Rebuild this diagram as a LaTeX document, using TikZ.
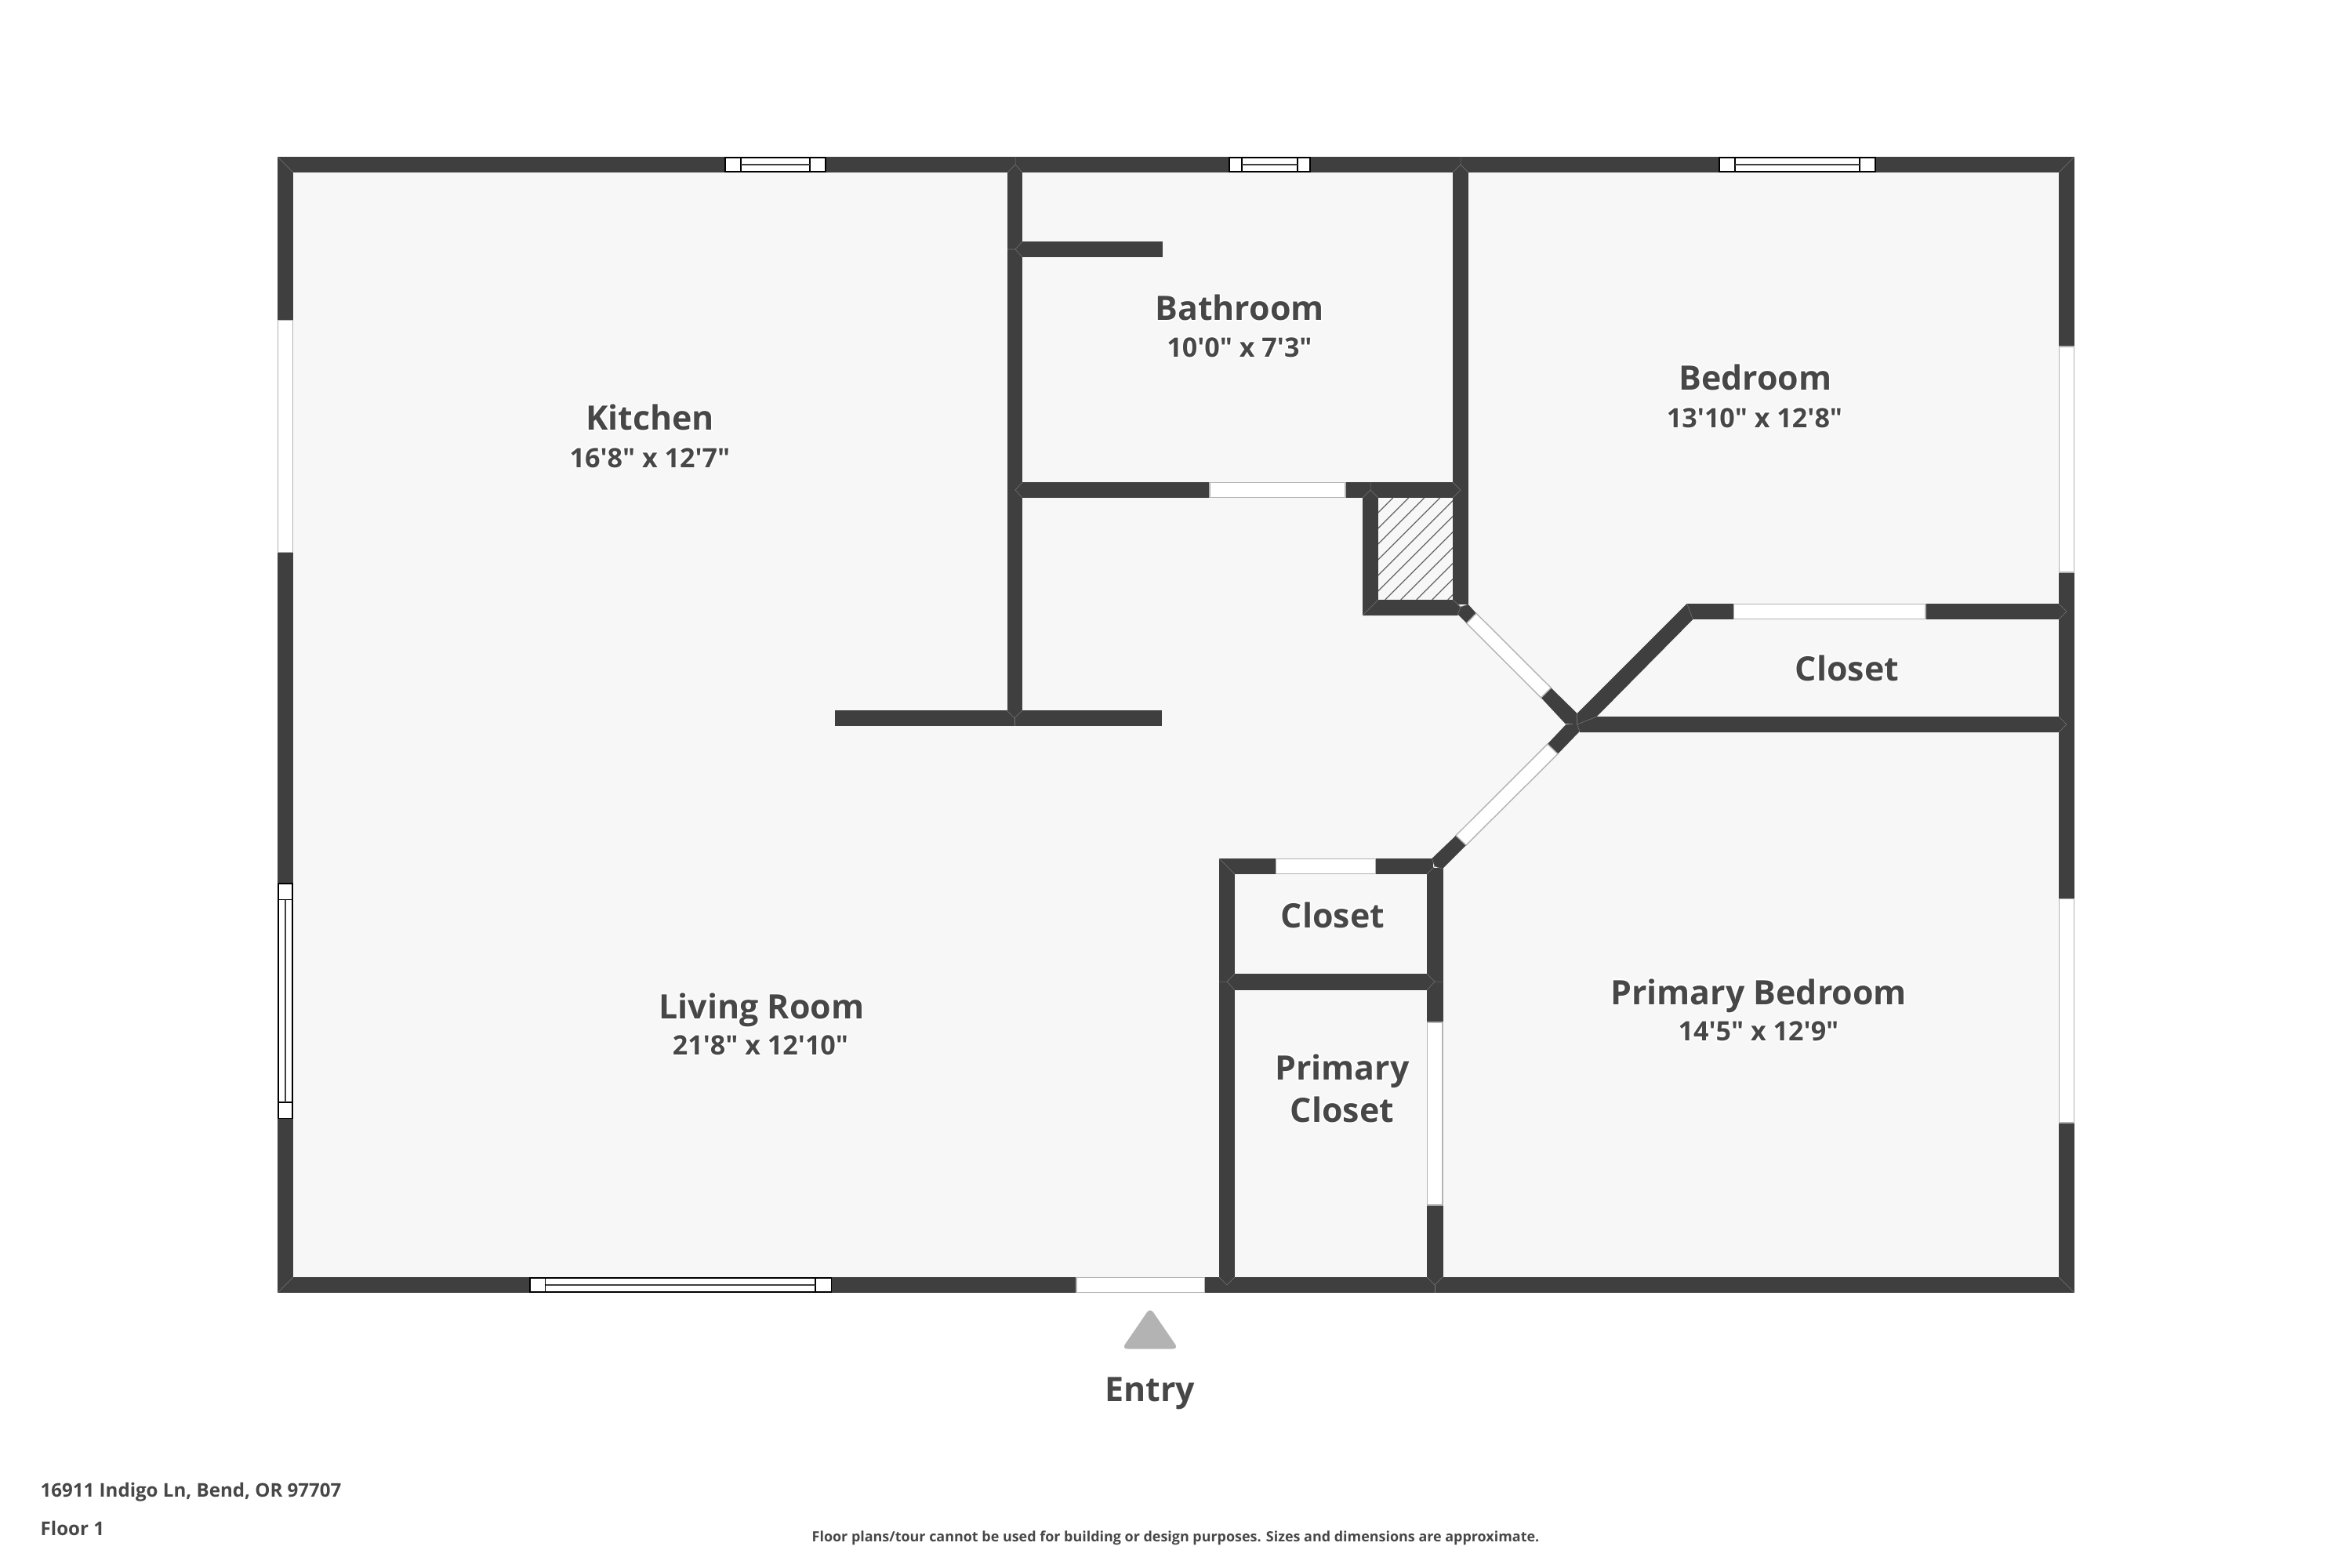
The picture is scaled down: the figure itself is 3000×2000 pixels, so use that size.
\documentclass[tikz,border=0pt]{standalone}
\usepackage{fontspec}
\usepackage{contour}
\setmainfont[Ligatures=TeXOff]{Open Sans}
\contourlength{0.4pt}
\definecolor{wallgray}{HTML}{3F3F3F}
\definecolor{floorgray}{HTML}{F7F7F7}
\definecolor{labelgray}{HTML}{474747}
\definecolor{openinggray}{HTML}{B3B3B3}
\definecolor{seamgray}{HTML}{757575}
\newcommand{\roomtext}[1]{\contour{white}{#1}}
\tikzset{
	wall/.style={fill=wallgray,draw=none},
	seam/.style={draw=seamgray,line width=0.15pt},
	opening/.style={fill=white,draw=openinggray,line width=0.4pt},
	glass/.style={fill=white,draw=black,line width=0.5pt},
	sash/.style={draw=wallgray,line width=0.45pt},
	hatchline/.style={draw=wallgray!80,line width=0.35pt},
	roomname/.style={anchor=base,inner sep=0pt,text=labelgray,font=\fontsize{12.2}{15.4}\selectfont\bfseries},
	roomdim/.style={anchor=base,inner sep=0pt,text=labelgray,font=\fontsize{9.7}{12}\selectfont\bfseries},
	footnote/.style={anchor=base west,inner sep=0pt,text=labelgray,font=\fontsize{6.85}{8}\selectfont\bfseries}
}
\begin{document}
\begin{tikzpicture}[x=0.01cm,y=-0.01cm]
	\useasboundingbox (0,0) rectangle (3000,2000);
	\fill[white] (0,0) rectangle (3000,2000);
	\fill[floorgray] (354,200) rectangle (2646,1649);
	\fill[wall] (354,200) rectangle (2646,220);
	\fill[wall] (354,1629) rectangle (2646,1649);
	\fill[wall] (354,200) rectangle (374,1649);
	\fill[wall] (2626,200) rectangle (2646,1649);
	\fill[wall] (1284.5,220) rectangle (1304,916);
	\fill[wall] (1295,308) rectangle (1483,328);
	\fill[wall] (1295,615) rectangle (1873,635);
	\fill[wall] (1065,906) rectangle (1482,926);
	\fill[wall] (1853,200) rectangle (1873,771);
	\fill[wall] (1738,615) rectangle (1758,785);
	\fill[wall] (1738,765) -- (1853,765) -- (1863,775) -- (1859.3,785) -- (1738,785) -- cycle;
	\fill[wall] (1859.3,783.3) -- (1863.3,774) -- (1872.7,771) -- (1883,782.3) -- (1870.7,795) -- cycle;
	\fill[wall] (1965.7,890) -- (1978.3,877.3) -- (2011.7,910) -- (2011.7,924) -- (1996.7,923.3) -- cycle;
	\fill[wall] (2011.7,910) -- (2151.7,770) -- (2159.3,790) -- (2036.7,914) -- (2011.7,924) -- cycle;
	\fill[wall] (2151.7,770) rectangle (2636,790);
	\fill[wall] (2036.7,914) -- (2636,914) -- (2636,934) -- (2015,934) -- (2011.7,924) -- cycle;
	\fill[wall] (1997.5,924) -- (2011.7,924) -- (2014.7,933) -- (1987,961.7) -- (1973.8,949) -- cycle;
	\fill[wall] (1857,1065.7) -- (1870,1078) -- (1839.8,1108.3) -- (1829.9,1105) -- (1826.4,1095) -- cycle;
	\fill[wall] (1555,1095) rectangle (1828,1115);
	\fill[wall] (1820,1107) rectangle (1840.5,1629);
	\fill[wall] (1555,1095) rectangle (1575.4,1629);
	\fill[wall] (1565,1242) rectangle (1830,1263);
	\begin{scope}
		\clip (1758,635) rectangle (1853,765);
		\foreach \k in {0,...,10}
			\draw[hatchline] ({1776.67+20*\k},635) -- ({1646.67+20*\k},765);
	\end{scope}
	\draw[opening] (354.5,408.6) rectangle (373.5,704.5);
	\draw[opening] (2626.5,442) rectangle (2645.5,730);
	\draw[opening] (2626.5,1146.7) rectangle (2645.5,1432);
	\draw[opening] (1543,615.5) rectangle (1716,634.5);
	\draw[opening] (2211.6,770.5) rectangle (2456,789.5);
	\draw[opening] (1627.4,1095.5) rectangle (1754.5,1114.5);
	\draw[opening] (1820.5,1304) rectangle (1840,1537);
	\draw[opening] (1373,1629.5) rectangle (1536.6,1648.5);
	\draw[opening] (1870.7,795) -- (1883,782.3) -- (1978.3,877.3) -- (1965.7,890) -- cycle;
	\draw[opening] (1973.8,949) -- (1987,961.7) -- (1870,1078) -- (1857,1065.7) -- cycle;
	\draw[glass] (925,201) rectangle (1053,219);
	\draw[glass] (945,201) rectangle (1033,219);
	\draw[sash] (945,210) -- (1033,210);
	\draw[glass] (1568,201) rectangle (1671,219);
	\draw[glass] (1584,201) rectangle (1655,219);
	\draw[sash] (1584,210) -- (1655,210);
	\draw[glass] (2193,201) rectangle (2392,219);
	\draw[glass] (2213,201) rectangle (2372,219);
	\draw[sash] (2213,210) -- (2372,210);
	\draw[glass] (355,1127) rectangle (373,1426.4);
	\draw[glass] (355,1147.5) rectangle (373,1406);
	\draw[sash] (364,1147.5) -- (364,1406);
	\draw[glass] (675.7,1630) rectangle (1060.4,1648);
	\draw[glass] (695.6,1630) rectangle (1040,1648);
	\draw[sash] (695.6,1639) -- (1040,1639);
	\draw[seam] (354,200) -- (374,220);
	\draw[seam] (2646,200) -- (2626,220);
	\draw[seam] (354,1649) -- (374,1629);
	\draw[seam] (2646,1649) -- (2626,1629);
	\draw[seam] (1295,200) -- (1295,210) -- (1285,220);
	\draw[seam] (1295,210) -- (1304,220);
	\draw[seam] (1863,200) -- (1863,210) -- (1853,220);
	\draw[seam] (1863,210) -- (1873,220);
	\draw[seam] (1285,318) -- (1295,318) -- (1304,308);
	\draw[seam] (1295,318) -- (1304,328);
	\draw[seam] (1304,615) -- (1295,625) -- (1304,635);
	\draw[seam] (1284,906) -- (1294,916) -- (1304,906);
	\draw[seam] (1294,916) -- (1294,926);
	\draw[seam] (1748,615) -- (1748,625) -- (1738,635);
	\draw[seam] (1748,625) -- (1758,635);
	\draw[seam] (1853,615) -- (1863,625) -- (1853,635);
	\draw[seam] (1738,785) -- (1758,765);
	\draw[seam] (1853,765) -- (1863.3,774) -- (1872.7,771);
	\draw[seam] (1863.3,774) -- (1859.3,783.3);
	\draw[seam] (1555,1095) -- (1575,1115);
	\draw[seam] (1826.4,1095) -- (1829.9,1105) -- (1839.8,1108.3);
	\draw[seam] (1829.9,1105) -- (1820,1115);
	\draw[seam] (1555,1252) -- (1565,1252) -- (1575,1242);
	\draw[seam] (1565,1252) -- (1575,1263);
	\draw[seam] (1840,1252) -- (1830,1252) -- (1820,1242);
	\draw[seam] (1830,1252) -- (1820,1263);
	\draw[seam] (1555,1629) -- (1565,1639) -- (1575,1629);
	\draw[seam] (1820,1629) -- (1830,1639) -- (1840,1629);
	\draw[seam] (1830,1639) -- (1830,1649);
	\draw[seam] (2011.7,910) -- (2011.7,924) -- (2036.7,914);
	\draw[seam] (2011.7,924) -- (2014.7,933);
	\draw[seam] (2151.7,770) -- (2159.3,790);
	\draw[seam] (2626,770) -- (2636,780) -- (2626,790);
	\draw[seam] (2626,914) -- (2636,924) -- (2626,934);
	\fill[openinggray,rounded corners=2] (1467,1668) -- (1503,1720.5) -- (1431,1720.5) -- cycle;
	\node[roomname] (kitchen) at (829,548.7) {\roomtext{Kitchen}};
	\node[roomdim] (kitchendim) at (829,596) {\roomtext{16'8" x 12'7"}};
	\node[roomname] (bathroom) at (1581,408.6) {\roomtext{Bathroom}};
	\node[roomdim] (bathroomdim) at (1581,455.5) {\roomtext{10'0" x 7'3"}};
	\node[roomname] (bedroom) at (2239,497) {\roomtext{Bedroom}};
	\node[roomdim] (bedroomdim) at (2238,545) {\roomtext{13'10" x 12'8"}};
	\node[roomname] (closeta) at (2356,868) {\roomtext{Closet}};
	\node[roomname] (closetb) at (1700,1183) {\roomtext{Closet}};
	\node[roomname,align=center] (primarycloset) at (1712,1431.4) {\roomtext{Primary}\\\roomtext{Closet}};
	\node[roomname] (primarybed) at (2243,1281) {\roomtext{Primary Bedroom}};
	\node[roomdim] (primarybeddim) at (2243,1327.7) {\roomtext{14'5" x 12'9"}};
	\node[roomname] (living) at (971.5,1299.8) {\roomtext{Living Room}};
	\node[roomdim] (livingdim) at (970,1345.7) {\roomtext{21'8" x 12'10"}};
	\node[roomname] (entry) at (1467,1787) {Entry};
	\node[footnote] (address) at (51,1909) {16911 Indigo Ln, Bend, OR 97707};
	\node[footnote] (floorname) at (51,1958.7) {Floor 1};
	\node[footnote,font=\fontsize{5.1}{6}\selectfont\bfseries] (disclaimer) at (1035,1966.7) {Floor plans/tour cannot be used for building or design purposes. Sizes and dimensions are approximate.};
\end{tikzpicture}
\end{document}
